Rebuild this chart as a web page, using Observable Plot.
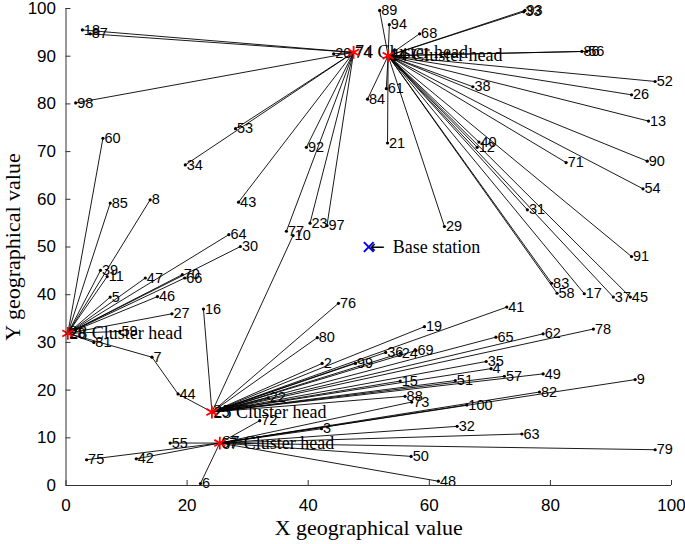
<!DOCTYPE html>
<html><head><meta charset="utf-8">
<script src="https://cdn.jsdelivr.net/npm/d3@7"></script>
<script src="https://cdn.jsdelivr.net/npm/@observablehq/plot@0.6"></script>
<style>body{margin:0;background:#fff;}</style>
</head><body><div id="chart"></div>
<script>
// Cluster heads
const headIds = [74, 14, 28, 25, 67];
const headX   = [47.5, 53.2, 0.3, 24.1, 25.4];
const headY   = [90.8, 90.1, 31.9, 15.4, 8.9];

// Sensor nodes and the cluster head each one reports to
const nodeIds = [18,87,98,20,53,34,92,43,77,23,97,
  89,94,68,93,33,86,56,52,26,38,13,84,61,21,40,12,71,90,54,31,29,91,83,58,17,37,45,
  60,85,8,39,11,47,70,66,64,30,5,46,27,81,59,7,
  10,16,76,80,2,99,22,44,36,24,69,19,41,65,62,78,35,4,57,49,15,51,88,
  72,3,55,75,42,6,32,63,79,50,48,9,82,100,73];
const nodeX = [2.7,4.0,1.6,44.2,28.0,19.7,39.7,28.5,36.4,40.3,43.1,
  51.8,53.4,58.4,75.8,75.6,85.2,86.0,97.3,93.4,67.2,96.2,49.8,52.9,53.1,68.2,67.9,82.6,96.0,95.3,76.2,62.5,93.4,80.2,81.1,85.6,90.4,93.2,
  6.1,7.3,13.9,5.7,6.8,13.1,19.2,19.6,26.9,28.8,7.3,15.1,17.5,4.6,8.9,14.2,
  37.5,22.7,45.0,41.5,42.3,47.8,33.4,18.5,52.8,55.2,57.8,59.2,72.8,71.0,78.8,87.1,69.4,70.2,72.4,78.8,55.2,64.3,56.0,
  32.0,42.2,17.2,3.4,11.6,22.2,64.6,75.3,97.3,57.0,61.5,94.0,78.2,66.2,57.1];
const nodeY = [95.5,94.7,80.2,90.5,74.8,67.2,70.9,59.4,53.3,55.0,54.5,
  99.6,96.6,94.7,99.6,99.3,91.0,91.0,84.7,81.9,83.6,76.4,81.0,83.2,71.8,72.0,70.9,67.7,68.0,62.2,57.8,54.3,48.0,42.4,40.3,40.2,39.5,39.5,
  72.8,59.2,59.9,45.1,43.8,43.5,44.2,43.5,52.6,50.1,39.5,39.6,36.0,30.0,32.3,26.9,
  52.4,37.0,38.2,31.0,25.6,25.6,18.4,19.2,27.9,27.7,28.3,33.3,37.4,31.1,31.8,32.8,26.0,24.5,22.9,23.4,21.9,22.0,18.7,
  13.6,11.9,8.9,5.4,5.6,0.4,12.4,10.8,7.5,6.1,0.9,22.2,19.6,16.9,17.5];
const nodeHead = [74,74,74,74,74,74,74,74,74,74,74,
  14,14,14,14,14,14,14,14,14,14,14,14,14,14,14,14,14,14,14,14,14,14,14,14,14,14,14,
  28,28,28,28,28,28,28,28,28,28,28,28,28,28,28,28,
  25,25,25,25,25,25,25,25,25,25,25,25,25,25,25,25,25,25,25,25,25,25,25,
  67,67,67,67,67,67,67,67,67,67,67,67,67,67,67];
// extra relay segment between two nodes
const relayFrom = [7];
const relayTo   = [44];

// Base station
const baseX = [50];
const baseY = [50];

const xTicks = [0, 20, 40, 60, 80, 100];
const yTicks = [0, 10, 20, 30, 40, 50, 60, 70, 80, 90, 100];

const heads = headIds.map((id, i) => ({id, x: headX[i], y: headY[i]}));
const nodes = nodeIds.map((id, i) => ({id, x: nodeX[i], y: nodeY[i], head: nodeHead[i]}));
const pos = new Map([...heads, ...nodes].map(d => [d.id, d]));
const links = nodes.map(n => ({a: n, b: pos.get(n.head)}))
  .concat(relayFrom.map((f, i) => ({a: pos.get(f), b: pos.get(relayTo[i])})));
const base = baseX.map((x, i) => ({x, y: baseY[i]}));

const W = 685, H = 544, mL = 65.5, mR = 14, mT = 8, mB = 59;
const sans = "'Liberation Sans', Arial, sans-serif";
const serif = "'Liberation Serif', 'Times New Roman', serif";
const axisColor = "#333";

const chart = Plot.plot({
  width: W, height: H,
  marginLeft: mL, marginRight: mR, marginTop: mT, marginBottom: mB,
  x: {domain: [0, 100]},
  y: {domain: [0, 100]},
  style: {background: "white", fontFamily: sans, color: "black"},
  marks: [
    Plot.link(links, {x1: d => d.a.x, y1: d => d.a.y, x2: d => d.b.x, y2: d => d.b.y, stroke: "black", strokeWidth: 0.9}),
    Plot.dot(nodes, {x: "x", y: "y", r: 1.6, fill: "black"}),
    Plot.text([...nodes, ...heads], {x: "x", y: "y", text: d => String(d.id), textAnchor: "start", dx: 1.5, fontSize: 14.5, fontFamily: sans, fill: "black"}),
    Plot.text(heads, {x: "x", y: "y", text: d => `${d.id} Cluster head`, textAnchor: "start", dx: 1.5, fontSize: 18, fontFamily: serif, fill: "black"}),
    Plot.dot(heads, {x: "x", y: "y", symbol: "asterisk", r: 6, stroke: "red", strokeWidth: 1.8}),
    Plot.dot(base, {x: "x", y: "y", symbol: "times", r: 4.5, stroke: "blue", strokeWidth: 2}),
    Plot.text(base, {x: "x", y: "y", text: () => "\u2190", textAnchor: "start", dx: 1, fontSize: 18, fontFamily: "'DejaVu Sans', sans-serif", fill: "black"}),
    Plot.text(base, {x: "x", y: "y", text: () => "Base station", textAnchor: "start", dx: 24, fontSize: 18, fontFamily: serif, fill: "black"}),
    Plot.ruleY([0], {stroke: axisColor}),
    Plot.ruleX([0], {stroke: axisColor}),
    Plot.tickX(xTicks, {x: d => d, insetTop: (H - mT - mB) - 5, stroke: axisColor}),
    Plot.tickY(yTicks, {y: d => d, insetRight: (W - mL - mR) - 5, stroke: axisColor}),
    Plot.axisX(xTicks, {tickSize: 0, tickPadding: 13, fontSize: 17, fontFamily: sans, label: null}),
    Plot.axisY(yTicks, {tickSize: 0, tickPadding: 10, fontSize: 17, fontFamily: sans, label: null}),
    Plot.text(["X geographical value"], {frameAnchor: "bottom", dy: 42, textAnchor: "middle", lineAnchor: "middle", fontSize: 22, fontFamily: serif, fill: "black"}),
    Plot.text(["Y geographical value"], {frameAnchor: "left", dx: -53, rotate: -90, textAnchor: "middle", lineAnchor: "middle", fontSize: 22, fontFamily: serif, fill: "black"})
  ]
});
document.getElementById("chart").appendChild(chart);
</script>
</body></html>
